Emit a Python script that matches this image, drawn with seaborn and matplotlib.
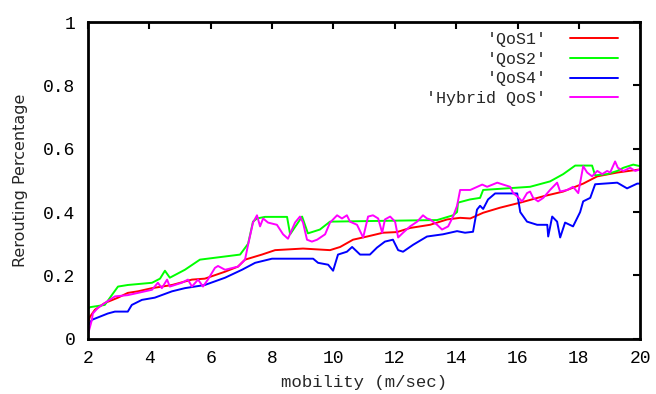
import pandas as pd
import numpy as np
import matplotlib
matplotlib.use("Agg")
import matplotlib.pyplot as plt
import seaborn as sns

# values
qos1_x = [2.0, 2.07, 2.23, 2.55, 2.98, 3.30, 3.63, 4.09, 4.74, 5.39, 5.81, 6.47, 6.89, 7.12, 7.67,
          8.10, 9.01, 9.89, 10.22, 10.64, 11.10, 11.62, 12.07, 12.50, 13.15, 13.71, 14.13, 14.46,
          14.88, 15.43, 16.09, 16.84, 17.49, 18.14, 18.60, 19.25, 20.0]
qos1_y = [0.05, 0.07, 0.092, 0.113, 0.13, 0.145, 0.15, 0.16, 0.17, 0.187, 0.19, 0.212, 0.228, 0.25, 0.266,
          0.28, 0.285, 0.28, 0.29, 0.313, 0.323, 0.335, 0.337, 0.35, 0.36, 0.377, 0.382, 0.38,
          0.398, 0.414, 0.43, 0.45, 0.465, 0.49, 0.513, 0.525, 0.535]

qos2_x = [2.0, 2.07, 2.55, 2.72, 2.98, 3.30, 4.09, 4.35, 4.51, 4.67, 5.16, 5.65, 6.47, 6.96, 7.22, 7.38,
          7.51, 7.77, 8.49, 8.59, 8.80, 8.98, 9.17, 9.56, 9.89, 13.38, 13.90, 14.03, 14.06, 14.45,
          14.78, 14.88, 16.41, 17.06, 17.49, 17.88, 18.43, 18.53, 18.92, 19.25, 19.45, 19.77, 20.0]
qos2_y = [0.095, 0.10, 0.107, 0.13, 0.165, 0.17, 0.177, 0.19, 0.215, 0.193, 0.218, 0.25, 0.26, 0.266, 0.30, 0.37,
          0.38, 0.385, 0.385, 0.33, 0.36, 0.386, 0.333, 0.345, 0.37, 0.375, 0.39, 0.40, 0.43, 0.44,
          0.445, 0.47, 0.48, 0.497, 0.52, 0.547, 0.547, 0.516, 0.52, 0.53, 0.54, 0.55, 0.545]

qos4_x = [2.0, 2.13, 2.39, 2.65, 2.88, 3.30, 3.43, 3.76, 4.18, 4.74, 5.16, 5.81, 6.47, 7.02, 7.45, 8.0,
          9.34, 9.50, 9.83, 9.99, 10.15, 10.44, 10.61, 10.87, 11.19, 11.42, 11.68, 11.94, 12.11, 12.27,
          12.60, 13.05, 13.57, 14.03, 14.29, 14.55, 14.68, 14.78, 14.88, 15.04, 15.27, 15.99, 16.09,
          16.31, 16.64, 16.97, 17.0, 17.13, 17.29, 17.39, 17.55, 17.81, 18.04, 18.14, 18.37, 18.53,
          19.25, 19.57, 19.90, 20.0]
qos4_y = [0.04, 0.06, 0.07, 0.08, 0.086, 0.086, 0.107, 0.123, 0.13, 0.15, 0.16, 0.17, 0.193, 0.218, 0.24, 0.253,
          0.253, 0.24, 0.234, 0.215, 0.266, 0.275, 0.29, 0.266, 0.266, 0.288, 0.307, 0.313, 0.28, 0.275,
          0.297, 0.323, 0.33, 0.34, 0.335, 0.338, 0.408, 0.42, 0.41, 0.44, 0.459, 0.459, 0.40,
          0.37, 0.36, 0.36, 0.323, 0.386, 0.37, 0.32, 0.367, 0.355, 0.40, 0.434, 0.445, 0.488,
          0.493, 0.475, 0.49, 0.49]

hybrid_x = [2.0, 2.13, 2.16, 2.33, 2.55, 2.88, 3.30, 3.63, 4.09, 4.28, 4.41, 4.58, 4.67, 5.06, 5.26, 5.39,
            5.59, 5.75, 5.91, 6.14, 6.24, 6.47, 6.89, 7.12, 7.22, 7.38, 7.51, 7.61, 7.71, 7.87, 8.16,
            8.36, 8.52, 8.75, 8.91, 9.01, 9.14, 9.30, 9.47, 9.73, 9.89, 10.12, 10.28, 10.44, 10.54,
            10.77, 10.97, 11.13, 11.29, 11.46, 11.59, 11.68, 11.85, 12.01, 12.11, 12.27, 12.50, 12.73,
            12.92, 13.05, 13.15, 13.38, 13.54, 13.74, 13.90, 14.03, 14.13, 14.46, 14.85, 15.01, 15.34,
            15.53, 15.76, 15.86, 15.99, 16.15, 16.31, 16.41, 16.51, 16.67, 16.84, 17.06, 17.29, 17.39,
            17.62, 17.81, 17.98, 18.14, 18.27, 18.43, 18.60, 18.76, 18.92, 19.02, 19.18, 19.27, 19.45,
            19.67, 19.84, 20.0]
hybrid_y = [0.013, 0.06, 0.08, 0.098, 0.113, 0.134, 0.138, 0.145, 0.155, 0.177, 0.16, 0.187, 0.165, 0.177, 0.187, 0.165,
            0.187, 0.165, 0.187, 0.224, 0.23, 0.218, 0.228, 0.25, 0.297, 0.367, 0.39, 0.355, 0.38, 0.367, 0.36,
            0.33, 0.316, 0.367, 0.386, 0.367, 0.313, 0.307, 0.313, 0.33, 0.367, 0.39, 0.38, 0.39, 0.37,
            0.36, 0.32, 0.386, 0.39, 0.38, 0.335, 0.377, 0.386, 0.37, 0.32, 0.335, 0.355, 0.37,
            0.39, 0.38, 0.377, 0.36, 0.345, 0.355, 0.386, 0.42, 0.47, 0.47, 0.487, 0.48, 0.493,
            0.487, 0.48, 0.46, 0.45, 0.434, 0.46, 0.465, 0.445, 0.434, 0.445, 0.47, 0.493, 0.465,
            0.47, 0.48, 0.46, 0.545, 0.525, 0.513, 0.53, 0.52, 0.53, 0.525, 0.56, 0.54, 0.53,
            0.54, 0.53, 0.535]

series_names = ["'QoS1'", "'QoS2'", "'QoS4'", "'Hybrid QoS'"]
series_colors = ["#ff0000", "#00ff00", "#0000ff", "#ff00ff"]

# long-form table for seaborn
frames = []
for name, xs, ys in zip(series_names,
                        [qos1_x, qos2_x, qos4_x, hybrid_x],
                        [qos1_y, qos2_y, qos4_y, hybrid_y]):
    frames.append(pd.DataFrame({"mobility": xs, "rerouting": ys, "series": name}))
df = pd.concat(frames, ignore_index=True)

sns.set_style("white")
plt.rcParams['font.family'] = ['Liberation Mono', 'DejaVu Sans Mono']

fig = plt.figure(figsize=(6.56, 3.94), dpi=100)
ax = fig.add_axes([0.134, 0.140, 0.842, 0.804])

sns.lineplot(data=df, x="mobility", y="rerouting", hue="series",
             palette=dict(zip(series_names, series_colors)),
             estimator=None, sort=False, linewidth=1.4, ax=ax)

ax.set_xlim(2, 20)
ax.set_ylim(0, 1)
ax.set_xticks(np.arange(2, 21, 2))
ax.set_xticklabels([str(v) for v in range(2, 21, 2)])
ax.set_yticks([0, 0.2, 0.4, 0.6, 0.8, 1.0])
ax.set_yticklabels(["0", "0.2", "0.4", "0.6", "0.8", "1"])
ax.tick_params(direction="in", length=5, width=1.5, top=True, right=True,
               labelsize=13, colors="black", pad=9)
ax.tick_params(axis="x", pad=8)
for sp in ax.spines.values():
    sp.set_visible(True)
    sp.set_linewidth(2)
    sp.set_color("black")

ax.set_xlabel("mobility (m/sec)", fontsize=12.5, labelpad=6)
ax.set_ylabel("Rerouting Percentage", fontsize=11.5, family="DejaVu Sans", labelpad=11)

leg = ax.legend(loc="upper right", frameon=False, markerfirst=False, fontsize=12,
                handlelength=2.9, handletextpad=1.4, labelspacing=0.28, borderaxespad=0.2,
                bbox_to_anchor=(0.978, 1.0))

fig.savefig("out.png", dpi=100)
